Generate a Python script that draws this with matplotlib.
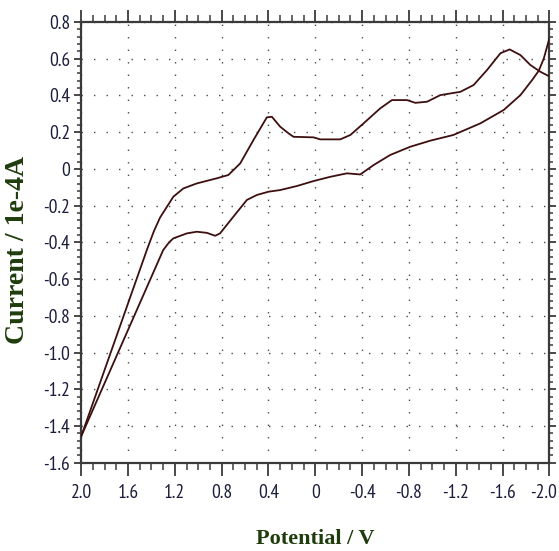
import matplotlib.pyplot as plt
import matplotlib.transforms as mtransforms
from matplotlib.ticker import MultipleLocator, FixedLocator

# Cyclic voltammogram: upper (oxidation) and lower (reduction) branches
upper_v = [2.0, 1.44, 1.38, 1.327, 1.213, 1.127, 1.013, 0.842, 0.743, 0.642, 0.529,
           0.414, 0.371, 0.30, 0.229, 0.186, 0.015, -0.042, -0.213, -0.30, -0.412,
           -0.555, -0.655, -0.783, -0.855, -0.955, -1.068, -1.24, -1.353, -1.468,
           -1.582, -1.661, -1.753, -1.838, -1.924, -2.0]
upper_i = [-1.455, -0.442, -0.340, -0.265, -0.151, -0.106, -0.079, -0.051, -0.033,
           0.030, 0.157, 0.281, 0.284, 0.230, 0.194, 0.175, 0.172, 0.161, 0.161,
           0.185, 0.248, 0.330, 0.375, 0.375, 0.360, 0.366, 0.402, 0.420, 0.457,
           0.539, 0.630, 0.651, 0.620, 0.566, 0.529, 0.504]

lower_v = [2.0, 1.30, 1.25, 1.213, 1.098, 1.013, 0.927, 0.856, 0.814, 0.70, 0.585,
           0.50, 0.40, 0.30, 0.157, 0.015, -0.127, -0.27, -0.384, -0.498, -0.64,
           -0.812, -0.983, -1.18, -1.41, -1.61, -1.753, -1.853, -1.91, -1.953, -2.0]
lower_i = [-1.455, -0.442, -0.400, -0.378, -0.351, -0.342, -0.348, -0.364, -0.351,
           -0.260, -0.169, -0.142, -0.124, -0.115, -0.093, -0.066, -0.043, -0.024,
           -0.030, 0.021, 0.076, 0.121, 0.154, 0.185, 0.248, 0.321, 0.402, 0.484,
           0.535, 0.602, 0.710]

x_ticks = [2.0, 1.6, 1.2, 0.8, 0.4, 0.0, -0.4, -0.8, -1.2, -1.6, -2.0]
x_labels = ['2.0', '1.6', '1.2', '0.8', '0.4', '0', '-0.4', '-0.8', '-1.2', '-1.6', '-2.0']
y_ticks = [0.8, 0.6, 0.4, 0.2, 0.0, -0.2, -0.4, -0.6, -0.8, -1.0, -1.2, -1.4, -1.6]
y_labels = ['0.8', '0.6', '0.4', '0.2', '0', '-0.2', '-0.4', '-0.6', '-0.8', '-1.0',
            '-1.2', '-1.4', '-1.6']

tick_font = ['PT Sans Narrow', 'Archivo Narrow', 'DejaVu Sans']
label_font = ['Liberation Serif', 'DejaVu Serif']

fig = plt.figure(figsize=(5.59, 5.51), dpi=100)
ax = fig.add_axes([0.1454, 0.1602, 0.8373, 0.7998])

line_col = '#3e0f0f'
ax.plot(upper_v, upper_i, color=line_col, lw=1.3, zorder=3)
ax.plot(lower_v, lower_i, color=line_col, lw=1.3, zorder=3)

ax.set_xlim(2.0, -2.0)
ax.set_ylim(-1.6, 0.8)

ax.xaxis.set_major_locator(FixedLocator(x_ticks))
ax.set_xticklabels(x_labels)
ax.xaxis.set_minor_locator(MultipleLocator(0.1))
ax.yaxis.set_major_locator(FixedLocator(y_ticks))
ax.set_yticklabels(y_labels)
ax.yaxis.set_minor_locator(MultipleLocator(0.04))

# sparse dotted grid on the major ticks
ax.grid(True, which='major', color='#4a4a4a', linestyle=(0, (1, 8)), lw=1.0)

frame = '#3a3a3a'
for s in ax.spines.values():
    s.set_color(frame)
    s.set_linewidth(1.6)

ax.tick_params(axis='x', which='major', direction='out', length=9, width=1.3,
               color=frame, top=True, pad=6)
ax.tick_params(axis='x', which='minor', direction='out', length=5, width=1.1,
               color=frame, top=True)
ax.tick_params(axis='y', which='major', direction='out', length=5, width=1.3,
               color=frame, right=True, pad=3)
ax.tick_params(axis='y', which='minor', direction='out', length=3, width=1.1,
               color=frame, right=True)

for lbl in ax.get_xticklabels() + ax.get_yticklabels():
    lbl.set_family(tick_font)
    lbl.set_fontsize(14)
    lbl.set_color('#1c1c3c')

# keep the last x label inside the canvas
last = ax.get_xticklabels()[-1]
last.set_transform(last.get_transform() +
                   mtransforms.ScaledTranslation(-4 / 72, 0, fig.dpi_scale_trans))

label_col = '#1f3d0c'
fig.text(0.032, 0.546, 'Current / 1e-4A', rotation=90, ha='center', va='center',
         family=label_font, weight='bold', fontsize=20, color=label_col)
fig.text(0.5635, 0.022, 'Potential / V', ha='center', va='center',
         family=label_font, weight='bold', fontsize=16, color=label_col)

fig.savefig('out.png', dpi=100)
